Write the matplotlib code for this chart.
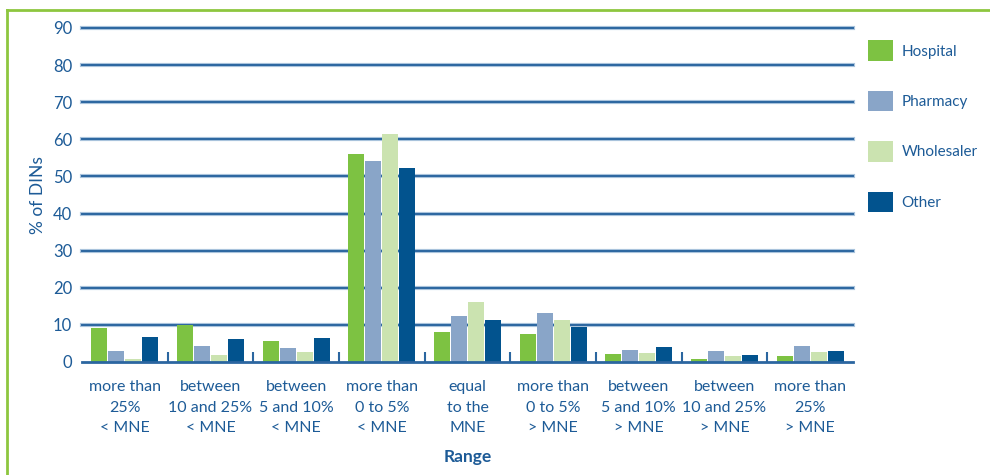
import matplotlib
matplotlib.use("Agg")
import matplotlib.pyplot as plt
from matplotlib.lines import Line2D
from matplotlib.patches import Patch
import numpy as np

plt.rcParams['font.family'] = ['Lato', 'DejaVu Sans']

categorias = [
    "more than\n25%\n< MNE",
    "between\n10 and 25%\n< MNE",
    "between\n5 and 10%\n< MNE",
    "more than\n0 to 5%\n< MNE",
    "equal\nto the\nMNE",
    "more than\n0 to 5%\n> MNE",
    "between\n5 and 10%\n> MNE",
    "between\n10 and 25%\n> MNE",
    "more than\n25%\n> MNE",
]

series = ["Hospital", "Pharmacy", "Wholesaler", "Other"]
hospital = [9.1, 10.0, 5.6, 56.1, 8.0, 7.5, 2.1, 0.7, 1.6]
pharmacy = [2.9, 4.2, 3.7, 54.2, 12.3, 13.1, 3.2, 2.9, 4.2]
wholesaler = [0.7, 1.8, 2.6, 61.3, 16.1, 11.2, 2.4, 1.6, 2.6]
other = [6.7, 6.1, 6.4, 52.4, 11.2, 9.4, 4.0, 1.9, 2.9]

colores = ["#7dc242", "#89a5c8", "#cbe3b0", "#02538e"]
azul = "#1d5b97"

fig = plt.figure(figsize=(9.9, 4.75), dpi=100)
ax = fig.add_axes([0.0828, 0.2379, 0.7788, 0.7032])

x = np.arange(len(categorias))
ancho = 0.187
paso = 0.198
for i, (valores, color) in enumerate(zip([hospital, pharmacy, wholesaler, other], colores)):
    ax.bar(x + (i - 1.5) * paso, valores, width=ancho, color=color, zorder=3)

ax.set_xlim(-0.5, len(categorias) - 0.5)
ax.set_ylim(0, 90)
ax.set_yticks(range(0, 91, 10))
for y in range(10, 91, 10):
    ax.axhline(y, color="#a9c3dc", lw=3.0, zorder=1, clip_on=False)
    ax.axhline(y, color="#2b66a0", lw=1.4, zorder=1, clip_on=False)

for lado in ["top", "right", "left"]:
    ax.spines[lado].set_visible(False)
ax.spines["bottom"].set_color("#2b66a0")
ax.spines["bottom"].set_linewidth(2)
ax.spines["bottom"].set_zorder(4)

ax.tick_params(axis="y", length=0, pad=7, labelsize=12, labelcolor=azul)
ax.set_xticks(x)
ax.set_xticklabels(categorias, fontsize=11.5, color=azul, linespacing=1.6)
ax.tick_params(axis="x", length=0, pad=13)
ax.set_xticks(np.arange(0.5, len(categorias) - 1, 1), minor=True)
ax.tick_params(axis="x", which="minor", direction="in", length=7, width=1.5, color="#2b66a0")

ax.set_ylabel("% of DINs", fontsize=12.5, color=azul, labelpad=5)
ax.set_xlabel("Range", fontsize=12.5, color=azul, fontweight="bold", labelpad=10)

# leyenda a la derecha
manejadores = [Patch(facecolor=c, edgecolor="none") for c in colores]
ley = fig.legend(manejadores, series, loc="upper left", bbox_to_anchor=(0.863, 0.944),
                 frameon=False, fontsize=11, labelcolor=azul, handlelength=1.6,
                 handleheight=1.7, labelspacing=1.95, handletextpad=0.6)

# marco verde
fig.add_artist(Line2D([0.0075, 1.0], [0.979, 0.979], color="#8dc63f", lw=2, transform=fig.transFigure))
fig.add_artist(Line2D([0.0075, 0.0075], [0.0, 0.979], color="#8dc63f", lw=2, transform=fig.transFigure))

fig.savefig("out.png", dpi=100)
